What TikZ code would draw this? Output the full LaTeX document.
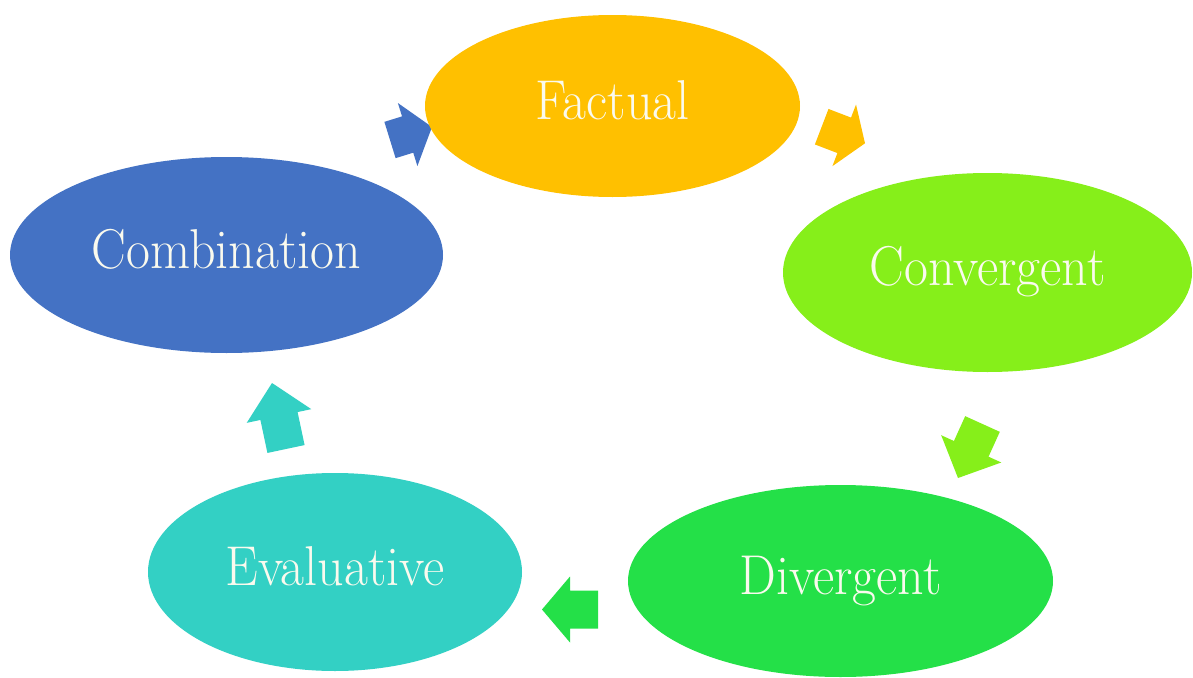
\documentclass[tikz,border=0pt]{standalone}
\usetikzlibrary{shapes.geometric,calc}
\definecolor{cFact}{RGB}{255,192,0}
\definecolor{cConv}{RGB}{134,239,26}
\definecolor{cDiv}{RGB}{36,224,72}
\definecolor{cEval}{RGB}{51,208,196}
\definecolor{cComb}{RGB}{68,114,196}
\definecolor{txt}{RGB}{250,250,238}
\newcommand\sw{14.25pt}
\newcommand\hw{24.75pt}
\newcommand\stagetext[1]{\scalebox{1}[1.08]{#1}}
% block arrow from back midpoint #2 to tip #3, head base at fraction #4
\newcommand\blockarrow[4]{%
  \coordinate (#2hb) at ($(#2)!#4!(#3)$);
  \fill[flowarrow=#1] ($(#2)!\sw!90:(#3)$) -- ($(#2hb)!\sw!90:(#3)$)
    -- ($(#2hb)!\hw!90:(#3)$) -- (#3) -- ($(#2hb)!\hw!-90:(#3)$)
    -- ($(#2hb)!\sw!-90:(#3)$) -- ($(#2)!\sw!-90:(#3)$) -- cycle;}
\tikzset{
  stage/.style 2 args={ellipse, inner sep=0pt, draw=none,
    minimum width=#1*0.75pt, minimum height=#2*0.75pt,
    text=txt, font=\fontsize{39}{44}\selectfont,
    text height=19.5pt, text depth=0pt},
  flowarrow/.style={fill=#1}
}
\begin{document}
\begin{tikzpicture}[x=0.75pt,y=-0.75pt]
\useasboundingbox[fill=white] (0,0) rectangle (1193,678);
% arrows (behind the ellipses)
\coordinate (a1s) at (390,140);   \coordinate (a1t) at (432,127);
\coordinate (a2s) at (821.7,126.7); \coordinate (a2t) at (865,143.3);
\coordinate (a3s) at (982.5,424); \coordinate (a3t) at (958,478);
\coordinate (a4s) at (598,609.5); \coordinate (a4t) at (542,609.5);
\coordinate (a5s) at (286,449);   \coordinate (a5t) at (272,383);
\blockarrow{cComb}{a1s}{a1t}{0.42}
\blockarrow{cFact}{a2s}{a2t}{0.52}
\blockarrow{cConv}{a3s}{a3t}{0.46}
\blockarrow{cDiv}{a4s}{a4t}{0.5}
\blockarrow{cEval}{a5s}{a5t}{0.5}
% stages
\node[stage={375}{182}, fill=cFact] (fact) at (612.5,106) {\stagetext{Factual}};
\node[stage={409}{199}, fill=cConv] (conv) at (987.5,272.5) {\stagetext{Convergent}};
\node[stage={425}{192}, fill=cDiv] (div) at (840.5,581) {\stagetext{Divergent}};
\node[stage={374}{198}, fill=cEval] (eval) at (335,572) {\stagetext{Evaluative}};
\node[stage={433}{196}, fill=cComb] (comb) at (226.5,255) {\stagetext{Combination}};
\end{tikzpicture}
\end{document}
